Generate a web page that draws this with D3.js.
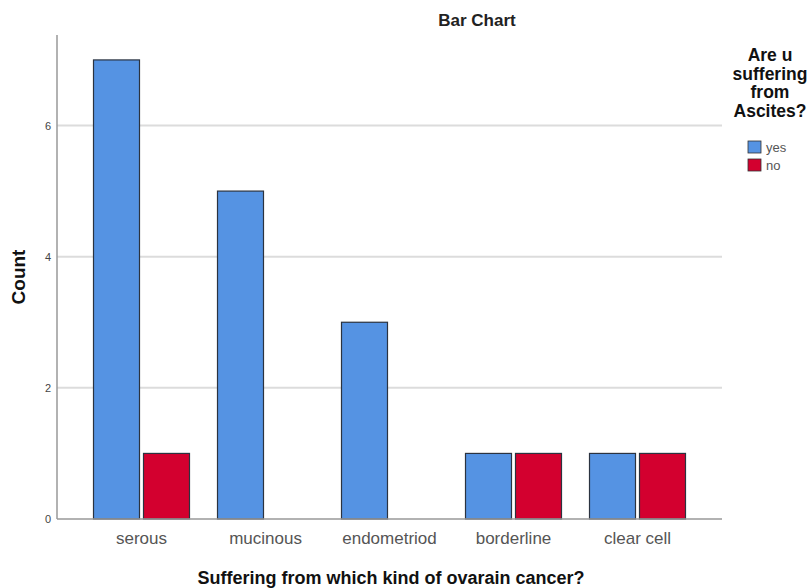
<!DOCTYPE html>
<html>
<head>
<meta charset="utf-8">
<script src="https://cdn.jsdelivr.net/npm/d3@7"></script>
<style>
  html, body { margin: 0; padding: 0; background: #fff; }
  svg { display: block; font-family: "Liberation Sans", Arial, sans-serif; }
</style>
</head>
<body>
<svg id="chart" width="809" height="588"></svg>
<script>
// Counts of ovarian cancer types, split by ascites status
const categories = ["serous", "mucinous", "endometriod", "borderline", "clear cell"];
const seriesNames = ["yes", "no"];
const yesCounts = [7, 5, 3, 1, 1];
const noCounts = [1, 0, 0, 1, 1];
const yTicks = [0, 2, 4, 6];

const colors = { yes: "#5593e3", no: "#d3002f" };
const seriesValues = { yes: yesCounts, no: noCounts };

const svg = d3.select("#chart");

const plot = { left: 57, right: 722, top: 35, bottom: 519 };

const x = d3.scaleBand()
  .domain(categories)
  .range([79.5, 699.5])
  .paddingInner(0)
  .paddingOuter(0);

const inner = d3.scaleBand()
  .domain(seriesNames)
  .range([0, 96])
  .paddingInner(0.08);

const y = d3.scaleLinear()
  .domain([0, 7.38])
  .range([plot.bottom, plot.top]);

// horizontal grid lines
svg.append("g")
  .selectAll("line")
  .data(yTicks.filter(d => d > 0))
  .join("line")
  .attr("x1", plot.left)
  .attr("x2", plot.right)
  .attr("y1", d => y(d))
  .attr("y2", d => y(d))
  .attr("stroke", "#dcdcdc")
  .attr("stroke-width", 2);

// y axis
const yAxis = d3.axisLeft(y).tickValues(yTicks).tickSize(0).tickPadding(6).tickFormat(d3.format("d"));
const yg = svg.append("g").attr("transform", `translate(${plot.left},0)`).call(yAxis);
yg.select(".domain").remove();
yg.selectAll("text").attr("fill", "#444").attr("font-size", 11).attr("font-family", "Liberation Sans, Arial, sans-serif");

svg.append("line")
  .attr("x1", plot.left).attr("x2", plot.left)
  .attr("y1", plot.top).attr("y2", plot.bottom)
  .attr("stroke", "#999").attr("stroke-width", 1.5);

// bars
const groups = svg.append("g")
  .selectAll("g")
  .data(categories)
  .join("g")
  .attr("transform", d => `translate(${x(d) + x.bandwidth() / 2 - 48},0)`);

groups.selectAll("rect")
  .data((c, i) => seriesNames.map(s => ({ s, v: seriesValues[s][i] })).filter(d => d.v > 0))
  .join("rect")
  .attr("x", d => inner(d.s))
  .attr("width", inner.bandwidth())
  .attr("y", d => y(d.v))
  .attr("height", d => y(0) - y(d.v))
  .attr("fill", d => colors[d.s])
  .attr("stroke", "#2b3340")
  .attr("stroke-width", 1.2);

// x axis
svg.append("line")
  .attr("x1", plot.left).attr("x2", plot.right)
  .attr("y1", plot.bottom).attr("y2", plot.bottom)
  .attr("stroke", "#999").attr("stroke-width", 1.5);

const xAxis = d3.axisBottom(x).tickSize(0).tickPadding(13);
const xg = svg.append("g").attr("transform", `translate(0,${plot.bottom})`).call(xAxis);
xg.select(".domain").remove();
xg.selectAll("text").attr("fill", "#555").attr("font-size", 17).attr("font-family", "Liberation Sans, Arial, sans-serif");

// titles
svg.append("text")
  .attr("x", 477).attr("y", 26)
  .attr("text-anchor", "middle")
  .attr("font-size", 17).attr("font-weight", "bold").attr("fill", "#222")
  .text("Bar Chart");

svg.append("text")
  .attr("x", 391).attr("y", 584)
  .attr("text-anchor", "middle")
  .attr("font-size", 18).attr("font-weight", "bold").attr("fill", "#111")
  .text("Suffering from which kind of ovarain cancer?");

svg.append("text")
  .attr("transform", "translate(25,277) rotate(-90)")
  .attr("text-anchor", "middle")
  .attr("font-size", 19).attr("font-weight", "bold").attr("fill", "#111")
  .text("Count");

// legend
const legendTitle = ["Are u", "suffering", "from", "Ascites?"];
svg.append("text")
  .attr("text-anchor", "middle")
  .attr("font-size", 17.5).attr("font-weight", "bold").attr("fill", "#111")
  .selectAll("tspan")
  .data(legendTitle)
  .join("tspan")
  .attr("x", 770)
  .attr("y", (d, i) => 61 + i * 18.5)
  .text(d => d);

const legend = svg.append("g")
  .selectAll("g")
  .data(seriesNames)
  .join("g")
  .attr("transform", (d, i) => `translate(748,${141 + i * 18})`);

legend.append("rect")
  .attr("width", 13).attr("height", 12)
  .attr("fill", d => colors[d])
  .attr("stroke", "#333").attr("stroke-width", 0.8);

legend.append("text")
  .attr("x", 18).attr("y", 11)
  .attr("font-size", 13).attr("fill", "#555")
  .text(d => d);
</script>
</body>
</html>
